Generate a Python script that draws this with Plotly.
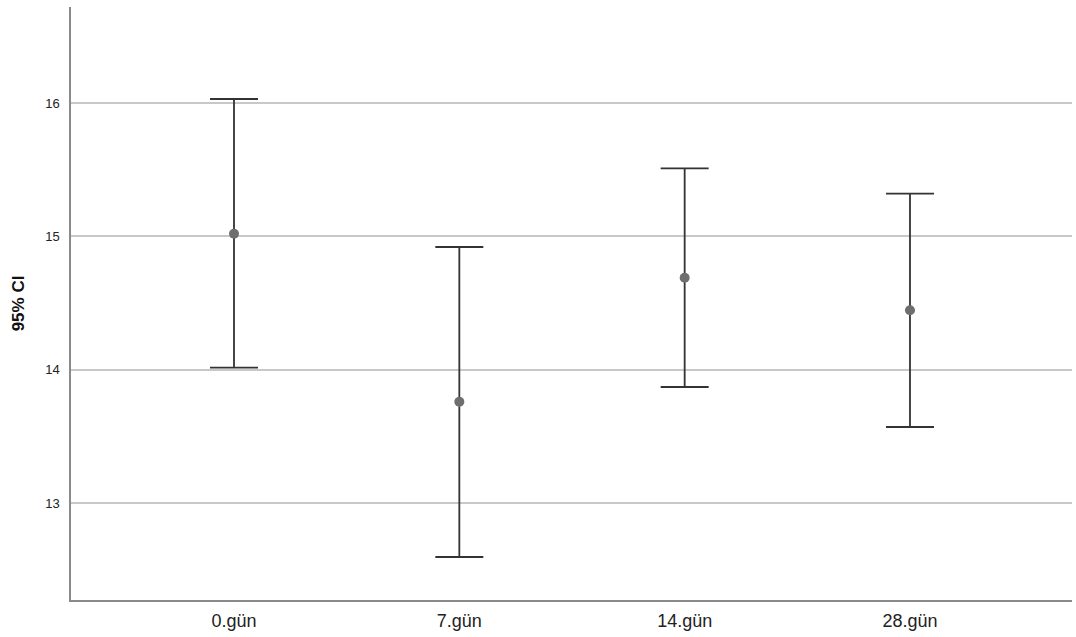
import plotly.graph_objects as go

categories = ["0.gün", "7.gün", "14.gün", "28.gün"]
means = [15.02, 13.76, 14.69, 14.445]
upper = [16.03, 14.92, 15.51, 15.32]
lower = [14.015, 12.595, 13.87, 13.57]

xpos = list(range(len(categories)))
err_plus = [u - m for u, m in zip(upper, means)]
err_minus = [m - l for m, l in zip(means, lower)]

fig = go.Figure()
fig.add_trace(go.Scatter(
    x=xpos, y=means, mode="markers",
    marker=dict(size=10, color="#6e6e6e"),
    error_y=dict(type="data", symmetric=False, array=err_plus, arrayminus=err_minus,
                 color="#333333", thickness=1.8, width=24),
    showlegend=False,
))

fig.update_layout(
    width=1076, height=637,
    margin=dict(l=71, r=4, t=7, b=37),
    paper_bgcolor="white", plot_bgcolor="white",
    font=dict(family="Liberation Sans, Arial, sans-serif", color="#222222"),
    xaxis=dict(
        range=[-0.7234, 3.719], tickvals=xpos, ticktext=categories,
        showgrid=False, zeroline=False, showline=True, linecolor="#8a8a8a", linewidth=1.5,
        ticks="", ticklabelstandoff=4, tickfont=dict(size=18, color="#222222"),
    ),
    yaxis=dict(
        range=[12.2725, 16.72], tickvals=[13, 14, 15, 16],
        showgrid=True, gridcolor="#c8c8c8", gridwidth=1.5, zeroline=False,
        showline=True, linecolor="#8a8a8a", linewidth=1.5,
        ticks="", ticklabelstandoff=7, tickfont=dict(size=13, color="#222222"),
        title=dict(text="<b>95% CI</b>", font=dict(size=17, color="#111111"), standoff=16),
    ),
)

fig.write_html("out.html")
